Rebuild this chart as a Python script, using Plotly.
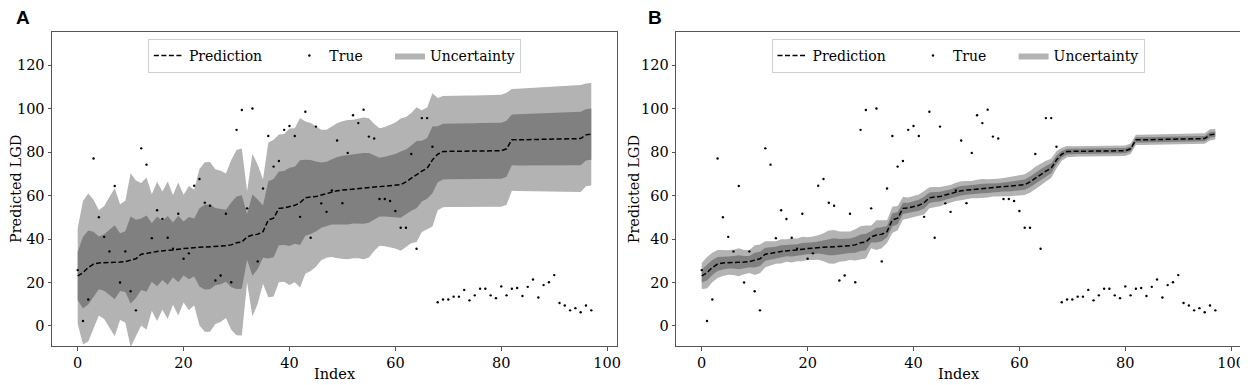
import plotly.graph_objects as go
from plotly.subplots import make_subplots

# values
index = list(range(98))

true_lgd = [25.7, 2.3, 12.2, 77.0, 50.0, 41.0, 34.3, 64.4, 20.0, 34.3,
            16.0, 7.2, 81.7, 74.2, 40.4, 53.2, 49.2, 40.6, 35.5, 51.6,
            30.9, 33.4, 64.5, 67.6, 56.7, 55.3, 20.9, 23.2, 51.6, 20.1,
            90.2, 99.3, 54.1, 100.0, 29.7, 63.2, 87.4, 73.3, 75.9, 90.2,
            92.0, 87.4, 50.2, 98.5, 40.6, 91.7, 56.4, 52.5, 62.3, 85.3,
            56.5, 79.6, 96.9, 93.3, 99.5, 87.1, 86.2, 58.4, 58.4, 57.5,
            52.9, 45.2, 45.2, 79.1, 35.5, 95.6, 95.6, 82.4, 10.9, 12.2,
            12.2, 13.5, 13.5, 16.6, 11.8, 14.1, 17.1, 17.1, 14.1, 12.8,
            18.2, 14.1, 17.1, 17.5, 13.8, 18.0, 21.4, 13.1, 18.8, 20.1,
            23.4, 10.6, 9.4, 7.2, 8.2, 6.3, 9.4, 7.2]

pred_lgd = [23.0, 24.5, 26.9, 28.5, 29.0, 29.2, 29.3, 29.3, 29.4, 29.6,
            30.3, 30.9, 33.0, 33.3, 33.8, 34.3, 34.7, 34.8, 35.0, 35.4,
            35.6, 35.8, 36.1, 36.2, 36.3, 36.4, 36.5, 36.6, 36.9, 37.3,
            38.3, 38.6, 41.0, 41.8, 42.2, 43.4, 48.8, 49.6, 54.1, 54.3,
            54.8, 55.5, 56.7, 59.0, 59.3, 59.5, 60.2, 60.8, 61.7, 62.2,
            62.5, 62.7, 63.0, 63.2, 63.3, 63.5, 63.7, 63.9, 64.1, 64.3,
            64.6, 65.0, 66.3, 68.0, 69.6, 71.2, 72.5, 76.4, 79.0, 80.2,
            80.3, 80.3, 80.35, 80.4, 80.4, 80.45, 80.5, 80.5, 80.55, 80.6,
            80.6, 81.5, 85.6, 85.6, 85.65, 85.7, 85.7, 85.75, 85.8, 85.8,
            85.85, 85.9, 85.9, 85.95, 86.0, 86.2, 87.9, 88.2]

# half width of the inner (dark) band; outer band is twice that
std_a = [11.0, 16.5, 17.0, 14.8, 12.1, 13.0, 15.0, 17.0, 13.3, 14.0,
         20.0, 18.0, 16.4, 17.5, 13.4, 16.0, 13.6, 15.8, 12.6, 15.3,
         12.4, 14.3, 13.3, 18.0, 19.5, 19.5, 17.8, 17.4, 16.6, 19.5,
         21.3, 21.5, 10.5, 18.7, 16.0, 12.0, 17.8, 18.0, 17.0, 17.0,
         18.0, 17.7, 19.5, 17.5, 17.0, 16.1, 15.0, 14.7, 15.0, 15.5,
         15.8, 16.0, 15.9, 16.0, 16.3, 16.0, 14.6, 13.5, 13.7, 14.1,
         14.5, 15.2, 14.9, 15.0, 15.5, 14.0, 14.0, 15.3, 12.9, 12.8,
         12.8, 12.8, 12.8, 12.8, 12.8, 12.8, 12.8, 12.8, 12.8, 12.85,
         12.9, 12.9, 11.7, 11.75, 11.8, 11.85, 11.9, 11.95, 12.0, 12.05,
         12.1, 12.15, 12.2, 12.25, 12.3, 12.3, 11.8, 11.8]

std_b = [3.0, 3.6, 3.4, 3.2, 3.0, 2.8, 2.9, 3.2, 2.8, 2.6,
         3.4, 3.3, 3.0, 2.8, 2.6, 2.8, 2.6, 2.8, 2.6, 2.8,
         2.6, 2.7, 2.8, 3.2, 3.8, 3.9, 3.5, 3.4, 3.3, 3.6,
         3.8, 3.8, 2.6, 3.4, 3.2, 2.6, 3.0, 2.8, 2.6, 2.4,
         2.5, 2.5, 2.7, 2.4, 2.3, 2.2, 2.1, 2.0, 2.1, 2.2,
         2.1, 2.0, 2.1, 2.2, 2.1, 2.0, 2.0, 2.1, 2.2, 2.2,
         2.3, 2.4, 2.5, 2.6, 2.5, 2.4, 2.2, 2.0, 1.5, 1.3,
         1.2, 1.2, 1.2, 1.2, 1.2, 1.2, 1.2, 1.2, 1.2, 1.2,
         1.2, 1.2, 1.2, 1.2, 1.2, 1.2, 1.2, 1.2, 1.2, 1.2,
         1.2, 1.2, 1.2, 1.2, 1.2, 1.2, 1.3, 1.2]

LIGHT = "#b3b3b3"
DARK = "#808080"
FONT = "DejaVu Serif"
NB = "\u00a0"


def add_panel(fig, col, std, legend):
    lo2 = [p - 2 * s for p, s in zip(pred_lgd, std)]
    hi2 = [p + 2 * s for p, s in zip(pred_lgd, std)]
    lo1 = [p - s for p, s in zip(pred_lgd, std)]
    hi1 = [p + s for p, s in zip(pred_lgd, std)]

    fig.add_trace(go.Scatter(x=index, y=lo2, mode="lines", line=dict(width=0),
                             showlegend=False, hoverinfo="skip"), row=1, col=col)
    fig.add_trace(go.Scatter(x=index, y=hi2, mode="lines", line=dict(width=0),
                             fill="tonexty", fillcolor=LIGHT, name="Uncertainty",
                             legend=legend, legendrank=3), row=1, col=col)
    fig.add_trace(go.Scatter(x=index, y=lo1, mode="lines", line=dict(width=0),
                             showlegend=False, hoverinfo="skip"), row=1, col=col)
    fig.add_trace(go.Scatter(x=index, y=hi1, mode="lines", line=dict(width=0),
                             fill="tonexty", fillcolor=DARK, showlegend=False),
                  row=1, col=col)
    fig.add_trace(go.Scatter(x=index, y=pred_lgd, mode="lines",
                             line=dict(color="black", width=1.5, dash="5px,2.5px"),
                             name="Prediction" + NB * 5, legend=legend, legendrank=1),
                  row=1, col=col)
    fig.add_trace(go.Scatter(x=index, y=true_lgd, mode="markers",
                             marker=dict(color="black", size=2.4),
                             name="True" + NB * 5, legend=legend, legendrank=2),
                  row=1, col=col)


fig = make_subplots(rows=1, cols=2, horizontal_spacing=0.0497)
add_panel(fig, 1, std_a, "legend")
add_panel(fig, 2, std_b, "legend2")

axis_style = dict(showline=True, mirror=True, linecolor="#555555", linewidth=1,
                  ticks="outside", ticklen=3.5, tickcolor="#555555", showgrid=False,
                  zeroline=False, automargin=False,
                  tickfont=dict(family=FONT, size=14.5, color="black"))

for c in (1, 2):
    fig.update_xaxes(axis_style, range=[-4.85, 101.85], tickvals=[0, 20, 40, 60, 80, 100],
                     row=1, col=c)
    fig.update_yaxes(axis_style, range=[-9.2, 135.2], tickvals=[0, 20, 40, 60, 80, 100, 120],
                     row=1, col=c)

leg = dict(orientation="h", yanchor="top", y=0.978, xanchor="center",
           bgcolor="rgba(255,255,255,0.8)", bordercolor="#d0d0d0", borderwidth=1,
           font=dict(family=FONT, size=14, color="black"), traceorder="normal")

# page body adds an 8px offset, so the figure is 8px smaller than the window
fig.update_layout(
    width=1240, height=377,
    margin=dict(l=44, r=7.3, t=24, b=39.3, autoexpand=False),
    plot_bgcolor="white", paper_bgcolor="white",
    legend=dict(leg, x=0.2375),
    legend2=dict(leg, x=0.762),
)

title_font = dict(family=FONT, size=14.5, color="black")
for x_idx, x_ylab, label, x_lab in [(0.2375, -0.0302, "<b>A</b>", -0.032),
                                    (0.762, 0.4898, "<b>B</b>", 0.4995)]:
    fig.add_annotation(text="Index", xref="paper", yref="paper", x=x_idx, y=-0.09,
                       xanchor="center", yanchor="middle", showarrow=False, font=title_font)
    fig.add_annotation(text="Predicted LGD", xref="paper", yref="paper", x=x_ylab, y=0.5,
                       xanchor="center", yanchor="middle", textangle=-90, showarrow=False,
                       font=title_font)
    fig.add_annotation(text=label, xref="paper", yref="paper", x=x_lab, y=1.046,
                       xanchor="left", yanchor="middle", showarrow=False,
                       font=dict(family="Liberation Sans", size=19, color="black"))

fig.write_html("out.html")
